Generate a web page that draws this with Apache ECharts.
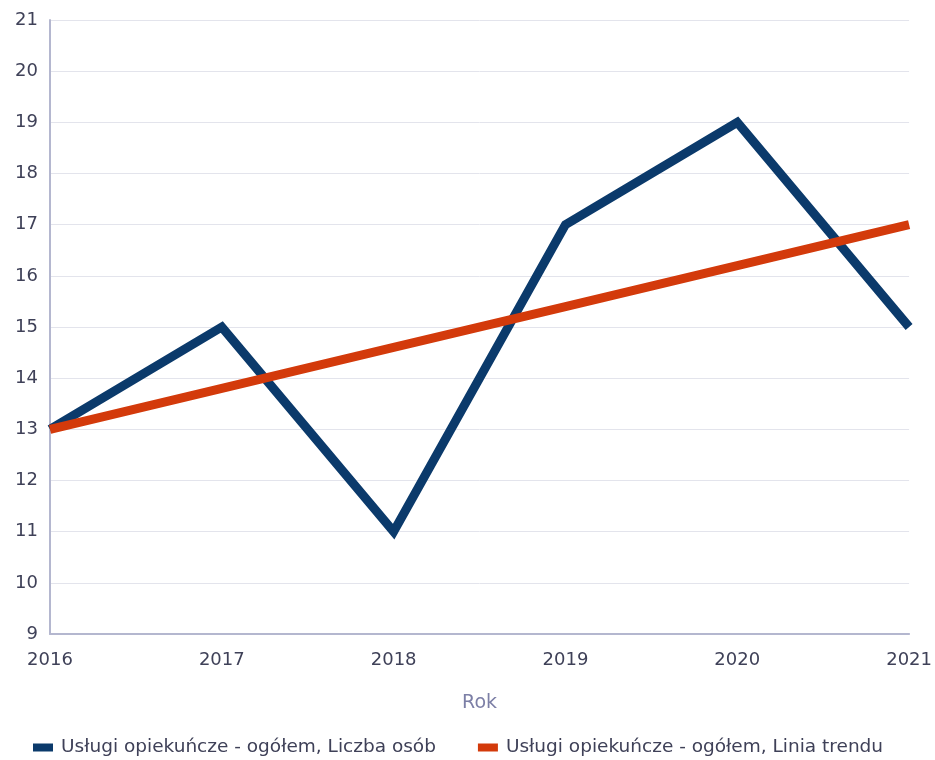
<!DOCTYPE html>
<html>
<head>
<meta charset="utf-8">
<script src="https://cdn.jsdelivr.net/npm/echarts@6/dist/echarts.min.js"></script>
<style>
  html, body { margin: 0; padding: 0; background: #fff; }
  #main { width: 935px; height: 760px; }
</style>
</head>
<body>
<div id="main"></div>
<script>
// dane wykresu
const years = ["2016", "2017", "2018", "2019", "2020", "2021"];
const liczbaOsob = [13, 15, 11, 17, 19, 15];
const liniaTrendu = [13, 13.8, 14.6, 15.4, 16.2, 17];
const seriesNames = [
  "Usługi opiekuńcze - ogółem, Liczba osób",
  "Usługi opiekuńcze - ogółem, Linia trendu"
];

const myChart = echarts.init(document.getElementById("main"));
const font = "'DejaVu Sans', sans-serif";

const option = {
  animation: false,
  textStyle: { fontFamily: font },
  color: ["#0b3a6b", "#d33a0b"],
  grid: { left: 50, right: 23, top: 20, bottom: 126 },
  legend: {
    top: 733,
    left: 28,
    itemGap: 42,
    itemWidth: 20,
    itemHeight: 8,
    icon: "rect",
    textStyle: { color: "#3f4158", fontSize: 18.5, fontFamily: font, padding: [0, 0, 0, 3] },
    data: seriesNames
  },
  xAxis: {
    type: "category",
    data: years,
    boundaryGap: false,
    name: "Rok",
    nameLocation: "middle",
    nameGap: 60,
    nameTextStyle: { color: "#7c7fa6", fontSize: 19, fontFamily: font },
    axisLine: { lineStyle: { color: "#b4b7cf", width: 2 } },
    axisTick: { show: false },
    axisLabel: { color: "#3f4158", fontSize: 18, margin: 17, fontFamily: font },
    splitLine: { show: false }
  },
  yAxis: {
    type: "value",
    min: 9,
    max: 21,
    interval: 1,
    axisLine: { show: true, lineStyle: { color: "#b4b7cf", width: 2 } },
    axisTick: { show: false },
    axisLabel: { color: "#3f4158", fontSize: 18, margin: 12, fontFamily: font },
    splitLine: { lineStyle: { color: "#e3e4ec", width: 1 } }
  },
  series: [
    {
      name: seriesNames[0],
      type: "line",
      data: liczbaOsob,
      symbol: "none",
      lineStyle: { width: 9, color: "#0b3a6b", join: "miter" }
    },
    {
      name: seriesNames[1],
      type: "line",
      data: liniaTrendu,
      symbol: "none",
      lineStyle: { width: 9, color: "#d33a0b" }
    }
  ]
};

myChart.setOption(option);
</script>
</body>
</html>
